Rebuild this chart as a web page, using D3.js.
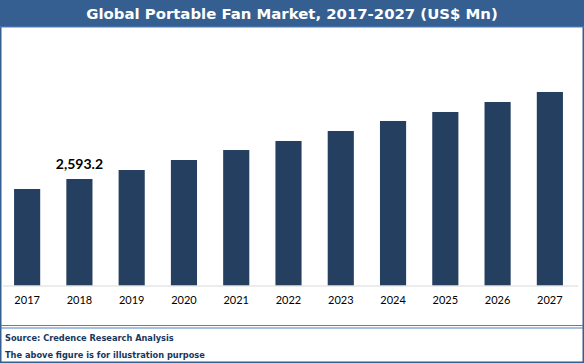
<!DOCTYPE html>
<html>
<head>
<meta charset="utf-8">
<script src="https://cdn.jsdelivr.net/npm/d3@7"></script>
<style>
  body { margin: 0; background: #fff; }
  svg { display: block; }
</style>
</head>
<body>
<svg id="chart" width="584" height="363"></svg>
<script>
// data
var years = ["2017", "2018", "2019", "2020", "2021", "2022", "2023", "2024", "2025", "2026", "2027"];
var marketValues = [2350, 2593.2, 2812, 3056, 3299, 3519, 3762, 4006, 4225, 4468, 4712];
var labelledYear = "2018";
var titleText = "Global Portable Fan Market, 2017-2027 (US$ Mn)";
var footerLines = ["Source: Credence Research Analysis", "The above figure is for illustration purpose"];

var W = 584, H = 363;
var svg = d3.select("#chart");

// frame + title bar
svg.append("rect")
   .attr("x", 0.75).attr("y", 0.75)
   .attr("width", W - 1.5).attr("height", H - 1.5)
   .attr("fill", "#fff")
   .attr("stroke", "#365f91").attr("stroke-width", 1.5);
svg.append("rect")
   .attr("x", 0).attr("y", 0)
   .attr("width", W).attr("height", 27)
   .attr("fill", "#365f91");
svg.append("line")
   .attr("x1", 0).attr("x2", W)
   .attr("y1", 27).attr("y2", 27)
   .attr("stroke", "#4f81bd").attr("stroke-width", 1);

var title = svg.append("text")
   .attr("x", W / 2).attr("y", 19)
   .attr("text-anchor", "middle")
   .attr("fill", "#fff")
   .style("font-family", "'DejaVu Sans', Verdana, sans-serif")
   .style("font-weight", "bold")
   .style("font-size", "15px")
   .text(titleText);
// fit title to reference width
var tw = title.node().getComputedTextLength();
title.style("font-size", (15 * 412 / tw) + "px");

// chart scales
var x = d3.scaleBand()
   .domain(years)
   .range([1, 576])
   .paddingInner(0.5)
   .paddingOuter(0.25);

var y = d3.scaleLinear()
   .domain([0, 5000])
   .range([285.5, 285.5 - 5000 / 24.35]);

svg.append("g")
   .selectAll("rect")
   .data(years)
   .enter().append("rect")
   .attr("x", function(d) { return x(d); })
   .attr("width", x.bandwidth())
   .attr("y", function(d, i) { return y(marketValues[i]); })
   .attr("height", function(d, i) { return y(0) - y(marketValues[i]); })
   .attr("fill", "#243f60");

// x axis
var xAxis = svg.append("g")
   .attr("transform", "translate(0," + (y(0) + 0.5) + ")")
   .call(d3.axisBottom(x).tickSize(0).tickPadding(10));
xAxis.select(".domain")
   .attr("d", "M3,0H578")
   .attr("stroke", "#d9d9d9");
xAxis.selectAll("text")
   .attr("fill", "#000")
   .style("font-family", "Lato, 'Open Sans', sans-serif")
   .style("font-size", "11px");

// data label
var li = years.indexOf(labelledYear);
svg.append("text")
   .attr("x", x(labelledYear) + x.bandwidth() / 2)
   .attr("y", y(marketValues[li]) - 10)
   .attr("text-anchor", "middle")
   .attr("fill", "#000")
   .style("font-family", "Lato, 'Open Sans', sans-serif")
   .style("font-weight", "bold")
   .style("font-size", "14px")
   .text(d3.format(",.1f")(marketValues[li]));

// footer separator (double line)
[325.5, 328].forEach(function(yy) {
  svg.append("line")
     .attr("x1", 1).attr("x2", W - 1)
     .attr("y1", yy).attr("y2", yy)
     .attr("stroke", "#4f81bd").attr("stroke-width", 1.2);
});

var footer = svg.append("g");
footer.selectAll("text")
   .data(footerLines)
   .enter().append("text")
   .attr("x", 5)
   .attr("y", function(d, i) { return 341 + i * 16.5; })
   .attr("fill", "#17375e")
   .style("font-family", "'DejaVu Sans', Verdana, sans-serif")
   .style("font-weight", "bold")
   .style("font-size", "10px")
   .text(function(d) { return d; });
var fw = footer.select("text").node().getComputedTextLength();
footer.selectAll("text").style("font-size", (10 * 169 / fw) + "px");
</script>
</body>
</html>
